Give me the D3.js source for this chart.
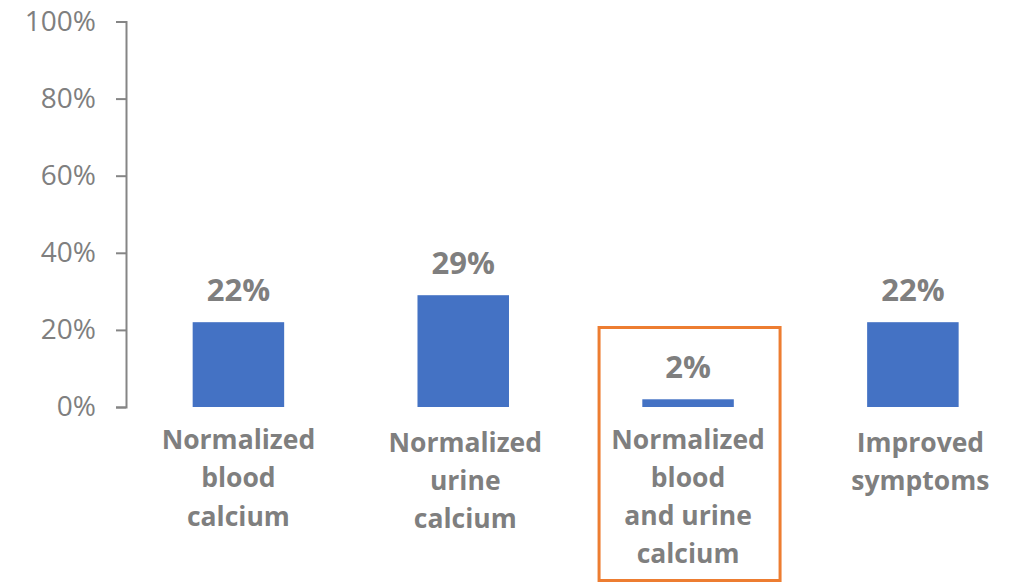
<!DOCTYPE html>
<html>
<head>
<meta charset="utf-8">
<script src="https://cdn.jsdelivr.net/npm/d3@7"></script>
<style>
  html, body { margin: 0; padding: 0; background: #fff; }
  svg { display: block; }
</style>
</head>
<body>
<svg id="chart" width="1012" height="583"></svg>
<script>
// Outcome categories, wrapped into the lines shown under each bar
const categories = [
  "Normalized blood calcium",
  "Normalized urine calcium",
  "Normalized blood and urine calcium",
  "Improved symptoms"
];
const categoryLines = [
  ["Normalized", "blood", "calcium"],
  ["Normalized", "urine", "calcium"],
  ["Normalized", "blood", "and urine", "calcium"],
  ["Improved", "symptoms"]
];
// Share of patients reaching each outcome (%)
const values = [22, 29, 2, 22];
const yTicks = [0, 20, 40, 60, 80, 100];
const highlighted = "Normalized blood and urine calcium";

const svg = d3.select("#chart");
const textColor = "#7f7f7f";
const font = "'Open Sans', 'Liberation Sans', sans-serif";
// small per-label nudges of the wrapped category text
const labelShift = [[0, 449], [2, 451.5], [0, 448.5], [7.5, 451.5]];

const x = d3.scaleBand()
  .domain(categories)
  .range([126, 1025.3])
  .paddingInner(0.593)
  .paddingOuter(0.2965);

const y = d3.scaleLinear()
  .domain([0, 100])
  .range([407, 21.5]);

// Y axis
const yAxis = d3.axisLeft(y)
  .tickValues(yTicks)
  .tickFormat(d => d + "%")
  .tickSize(10)
  .tickPadding(20);

const gy = svg.append("g")
  .attr("transform", "translate(126,0)")
  .call(yAxis);
gy.select(".domain").attr("stroke", "#858585").attr("stroke-width", 2);
gy.selectAll(".tick line").attr("stroke", "#858585").attr("stroke-width", 2);
gy.selectAll(".tick text")
  .attr("fill", textColor)
  .style("font-family", font)
  .style("font-size", "28px");

// Bars
svg.append("g")
  .selectAll("rect")
  .data(values)
  .join("rect")
  .attr("x", (d, i) => x(categories[i]))
  .attr("width", x.bandwidth())
  .attr("y", d => y(d))
  .attr("height", d => y(0) - y(d))
  .attr("fill", "#4472C4");

// Value labels above bars
svg.append("g")
  .selectAll("text")
  .data(values)
  .join("text")
  .attr("x", (d, i) => x(categories[i]) + x.bandwidth() / 2)
  .attr("y", d => y(d) - 21.5)
  .attr("text-anchor", "middle")
  .attr("fill", textColor)
  .style("font-family", font)
  .style("font-weight", "bold")
  .style("font-size", "31px")
  .text(d => d + "%");

// Category labels
const catG = svg.append("g");
categories.forEach((c, i) => {
  const t = catG.append("text")
    .attr("text-anchor", "middle")
    .attr("fill", textColor)
    .style("font-family", font)
    .style("font-weight", "bold")
    .style("font-size", "26.5px");
  categoryLines[i].forEach((line, j) => {
    t.append("tspan")
      .attr("x", x(c) + x.bandwidth() / 2 + labelShift[i][0])
      .attr("y", labelShift[i][1] + j * 38.3)
      .text(line);
  });
});

// Highlight frame around one outcome
const hx = x(highlighted) + x.bandwidth() / 2;
svg.append("rect")
  .attr("x", hx - 89)
  .attr("y", 327.5)
  .attr("width", 181)
  .attr("height", 253)
  .attr("fill", "none")
  .attr("stroke", "#ED7D31")
  .attr("stroke-width", 3);
</script>
</body>
</html>
